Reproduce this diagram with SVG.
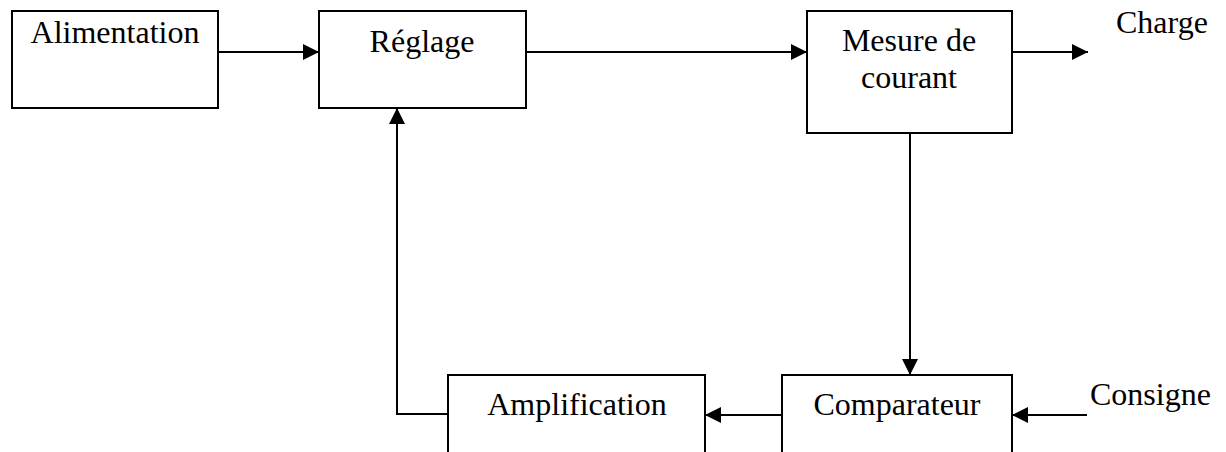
<svg xmlns="http://www.w3.org/2000/svg" width="1226" height="452" viewBox="0 0 1226 452">
<style>
.box{fill:#fff;stroke:#000;stroke-width:2}
.ln{fill:none;stroke:#000;stroke-width:2}
text{font-family:"Liberation Serif","Times New Roman",serif;font-size:32px;fill:#000}
.c{text-anchor:middle}
</style>
<defs>
<marker id="ah" viewBox="0 0 16 16" refX="16" refY="8" markerWidth="16" markerHeight="16" markerUnits="userSpaceOnUse" orient="auto">
<path d="M0,0 L16,8 L0,16 Z" fill="#000"/>
</marker>
</defs>
<rect width="1226" height="452" fill="#fff"/>
<g id="connectors">
<line class="ln" x1="218" y1="52" x2="319" y2="52" marker-end="url(#ah)"/>
<line class="ln" x1="526" y1="52" x2="807" y2="52" marker-end="url(#ah)"/>
<line class="ln" x1="1012" y1="52" x2="1088" y2="52" marker-end="url(#ah)"/>
<line class="ln" x1="910" y1="133" x2="910" y2="375" marker-end="url(#ah)"/>
<line class="ln" x1="1087" y1="415" x2="1012" y2="415" marker-end="url(#ah)"/>
<line class="ln" x1="782" y1="415" x2="705" y2="415" marker-end="url(#ah)"/>
<polyline class="ln" points="448,414 397,414 397,108" marker-end="url(#ah)"/>
</g>
<g id="alimentation">
<rect class="box" x="12" y="11" width="206" height="97"/>
<text x="115" y="43" class="c">Alimentation</text>
</g>
<g id="reglage">
<rect class="box" x="319" y="11" width="207" height="97"/>
<text x="422" y="52" class="c">Réglage</text>
</g>
<g id="mesure">
<rect class="box" x="807" y="11" width="205" height="122"/>
<text x="909" y="51" class="c">Mesure de</text>
<text x="909" y="88" class="c">courant</text>
</g>
<g id="charge">
<text x="1116" y="33">Charge</text>
</g>
<g id="comparateur">
<rect class="box" x="782" y="375" width="230" height="90"/>
<text x="897" y="415" class="c">Comparateur</text>
</g>
<g id="consigne">
<text x="1090" y="405">Consigne</text>
</g>
<g id="amplification">
<rect class="box" x="448" y="375" width="257" height="90"/>
<text x="577" y="415" class="c">Amplification</text>
</g>
</svg>
